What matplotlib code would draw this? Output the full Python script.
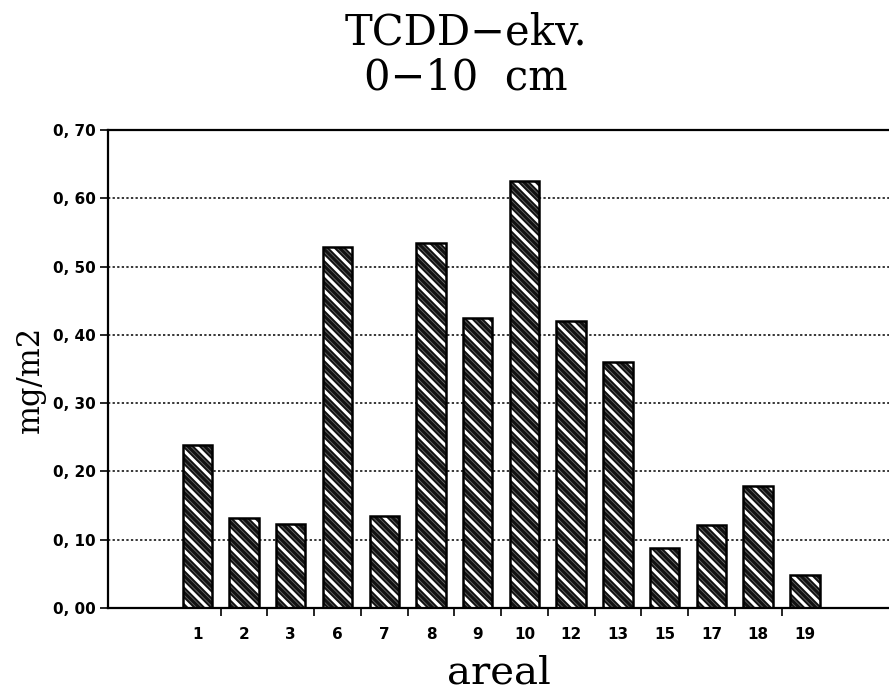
import matplotlib
matplotlib.use("Agg")
import matplotlib.pyplot as plt
import numpy as np

# --- data ---
areas = ["1", "2", "3", "6", "7", "8", "9", "10", "12", "13", "15", "17", "18", "19"]
values = [0.239, 0.132, 0.123, 0.528, 0.134, 0.535, 0.424, 0.626,
          0.421, 0.360, 0.088, 0.122, 0.178, 0.049]
yticks = [0.0, 0.1, 0.2, 0.3, 0.4, 0.5, 0.6, 0.7]
ytick_labels = ["0, 00", "0, 10", "0, 20", "0, 30", "0, 40", "0, 50", "0, 60", "0, 70"]

fig = plt.figure(figsize=(8.89, 6.92), dpi=100)
ax = fig.add_axes([0.1215, 0.1214, 0.8785, 0.6907])

x = np.arange(len(areas))

# gridlines behind bars
for y in yticks[1:-1]:
    ax.axhline(y, color="black", linestyle=(0, (1.5, 1.5)), linewidth=1.1, zorder=1)

# dark bars, thin grey stripes, wider white stripes, then black outline
with plt.rc_context({'hatch.linewidth': 0.6}):
    ax.bar(x, values, width=0.63, color="#111111", edgecolor="#666666",
           hatch="\\" * 6, linewidth=0, zorder=2)
with plt.rc_context({'hatch.linewidth': 2.2}):
    ax.bar(x, values, width=0.63, color="none", edgecolor="white",
           hatch="\\" * 2, linewidth=0, zorder=2.5)
ax.bar(x, values, width=0.63, color="none", edgecolor="black",
       linewidth=1.8, zorder=3)

ax.set_xlim(-1.91, 14.8)
ax.set_ylim(0, 0.7)

ax.set_xticks(x)
ax.set_xticklabels(areas, fontsize=11, fontweight="bold")
ax.tick_params(axis="x", which="major", length=0, pad=14)
ax.set_xticks(x[:-1] + 0.5, minor=True)
ax.tick_params(axis="x", which="minor", length=6, width=1.2, direction="out")

ax.set_yticks(yticks)
ax.set_yticklabels(ytick_labels, fontsize=11, fontweight="bold")
ax.tick_params(axis="y", length=6, width=1.2, direction="out", pad=3)

for side in ["left", "bottom", "top"]:
    ax.spines[side].set_linewidth(1.6)
ax.spines["right"].set_visible(False)

# titles and labels
fig.text(0.524, 0.9364, "TCDD\u2212ekv.", family="DejaVu Serif", fontsize=30,
         ha="center", va="baseline")
fig.text(0.524, 0.870, "0\u221210  cm", family="DejaVu Serif", fontsize=30,
         ha="center", va="baseline")
fig.text(0.034, 0.452, "mg/m2", family="DejaVu Serif", fontsize=22,
         rotation=90, ha="center", va="center")
fig.text(0.561, 0.013, "areal", family="DejaVu Serif", fontsize=29,
         ha="center", va="baseline")

fig.savefig("out.png", dpi=100)
